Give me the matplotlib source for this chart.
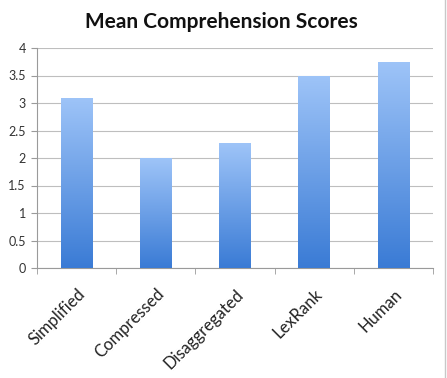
import matplotlib
matplotlib.use("Agg")
import matplotlib.pyplot as plt
import numpy as np
from matplotlib.colors import LinearSegmentedColormap
from matplotlib.lines import Line2D

categories = ["Simplified", "Compressed", "Disaggregated", "LexRank", "Human"]
scores = [3.1, 2.0, 2.27, 3.5, 3.75]
yticks = [0, 0.5, 1, 1.5, 2, 2.5, 3, 3.5, 4]
ytick_labels = ["0", "0.5", "1", "1.5", "2", "2.5", "3", "3.5", "4"]

plt.rcParams['font.family'] = ['Lato', 'DejaVu Sans']

fig = plt.figure(figsize=(4.47, 3.78), dpi=100)
ax = fig.add_axes([37/447, 1-268/378, (433-37)/447, (268-48)/378])

x = np.arange(len(categories))
bars = ax.bar(x, scores, width=0.4, color='none', edgecolor='none', zorder=3)

cmap = LinearSegmentedColormap.from_list("g", ["#3A7BD5", "#9EC4F8"])
grad = np.linspace(0, 1, 256).reshape(-1, 1)
for b in bars:
    x0, y0 = b.get_x(), b.get_y()
    w, h = b.get_width(), b.get_height()
    im = ax.imshow(grad, cmap=cmap, origin='lower', aspect='auto',
                   extent=[x0, x0 + w, y0, y0 + h], zorder=3)
    im.set_clip_path(b)

ax.set_xlim(-0.5, len(categories) - 0.5)
ax.set_ylim(0, 4)
ax.set_yticks(yticks)
ax.set_yticklabels(ytick_labels, fontsize=9, color='#333333')
ax.yaxis.grid(True, color='#BEBEBE', linewidth=0.8, zorder=0)
ax.set_axisbelow(True)

ax.set_xticks(x)
ax.set_xticklabels(categories, rotation=45, ha='right', rotation_mode='anchor',
                   fontsize=12, color='#222222')
ax.tick_params(axis='x', length=0, pad=13)
ax.set_xticks(np.arange(-0.5, len(categories)), minor=True)
ax.tick_params(axis='x', which='minor', length=4, color='#9A9A9A', direction='out')
ax.tick_params(axis='y', length=4, color='#9A9A9A', direction='out', pad=4)

for s in ['top', 'right']:
    ax.spines[s].set_visible(False)
ax.spines['left'].set_color('#9A9A9A')
ax.spines['bottom'].set_color('#9A9A9A')

fig.text(0.495, 1 - 22/378, "Mean Comprehension Scores", ha='center', va='center',
         fontsize=15, fontweight='bold', color='#111111')

fig.lines.append(Line2D([1 - 2/447, 1 - 2/447], [0, 1], transform=fig.transFigure,
                        color='#C8C8C8', linewidth=1.0))

fig.savefig("out.png", dpi=100)
